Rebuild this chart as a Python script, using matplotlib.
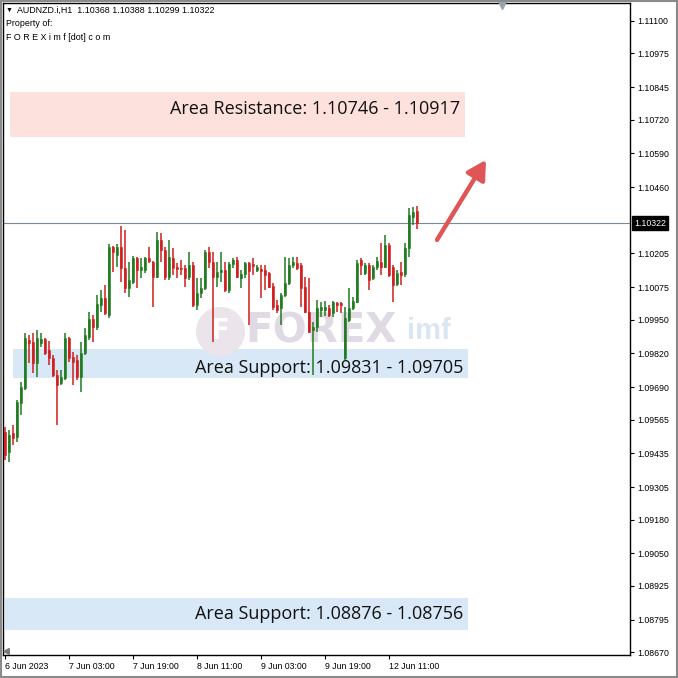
import numpy as np
import matplotlib
matplotlib.use('Agg')
import matplotlib.pyplot as plt
import matplotlib.transforms as mtransforms

# AUDNZD H1 candles, 6 Jun 2023 11:00 -> 12 Jun 2023 18:00
opens = [1.09518, 1.09441, 1.09514, 1.09499, 1.09630, 1.09687, 1.09872, 1.09864, 1.09783, 1.09860,
         1.09876, 1.09834, 1.09803, 1.09737, 1.09706, 1.09726, 1.09880, 1.09807, 1.09795, 1.09730,
         1.09822, 1.09884, 1.09953, 1.09922, 1.10007, 1.10034, 1.09968, 1.10230, 1.10199, 1.10230,
         1.10149, 1.10072, 1.10095, 1.10188, 1.10142, 1.10142, 1.10188, 1.10172, 1.10115, 1.10257,
         1.10218, 1.10115, 1.10188, 1.10153, 1.10149, 1.10149, 1.10115, 1.10161, 1.10007, 1.10053,
         1.10072, 1.10211, 1.10172, 1.10115, 1.10134, 1.10142, 1.10065, 1.10165, 1.10181, 1.10111,
         1.10126, 1.10168, 1.10165, 1.10142, 1.10145, 1.10142, 1.10130, 1.10080, 1.10007, 1.09995,
         1.10045, 1.10091, 1.10161, 1.10168, 1.10161, 1.10076, 1.09980, 1.09910, 1.09922, 1.09988,
         1.09988, 1.09995, 1.09976, 1.10015, 1.10015, 1.09803, 1.09949, 1.09995, 1.10018, 1.10181,
         1.10130, 1.10161, 1.10111, 1.10153, 1.10172, 1.10153, 1.10238, 1.10153, 1.10088, 1.10134,
         1.10126, 1.10226, 1.10345, 1.10368]
highs = [1.09537, 1.09526, 1.09545, 1.09641, 1.09710, 1.09899, 1.09891, 1.09899, 1.09910, 1.09899,
         1.09880, 1.09868, 1.09814, 1.09757, 1.09757, 1.09899, 1.09882, 1.09826, 1.09814, 1.09864,
         1.09918, 1.09980, 1.09968, 1.10045, 1.10065, 1.10084, 1.10242, 1.10234, 1.10242, 1.10311,
         1.10296, 1.10172, 1.10195, 1.10192, 1.10188, 1.10192, 1.10230, 1.10176, 1.10288, 1.10284,
         1.10230, 1.10257, 1.10226, 1.10168, 1.10181, 1.10161, 1.10211, 1.10172, 1.10111, 1.10111,
         1.10218, 1.10230, 1.10211, 1.10172, 1.10211, 1.10172, 1.10172, 1.10188, 1.10192, 1.10142,
         1.10172, 1.10172, 1.10188, 1.10161, 1.10161, 1.10161, 1.10134, 1.10091, 1.10026, 1.10053,
         1.10192, 1.10188, 1.10192, 1.10192, 1.10168, 1.10115, 1.10111, 1.09941, 1.10026, 1.10018,
         1.10022, 1.10007, 1.10022, 1.10018, 1.10018, 1.09999, 1.10072, 1.10038, 1.10181, 1.10188,
         1.10168, 1.10168, 1.10161, 1.10192, 1.10245, 1.10276, 1.10245, 1.10161, 1.10142, 1.10172,
         1.10245, 1.10380, 1.10384, 1.10388]
lows = [1.09410, 1.09402, 1.09468, 1.09479, 1.09583, 1.09680, 1.09783, 1.09745, 1.09730, 1.09845,
        1.09814, 1.09776, 1.09730, 1.09545, 1.09699, 1.09718, 1.09787, 1.09699, 1.09718, 1.09672,
        1.09814, 1.09872, 1.09864, 1.09910, 1.09980, 1.09968, 1.09957, 1.10134, 1.10153, 1.10095,
        1.10053, 1.10038, 1.10088, 1.10072, 1.10111, 1.10130, 1.10168, 1.09999, 1.10111, 1.10172,
        1.10103, 1.10103, 1.10122, 1.10111, 1.10122, 1.10076, 1.10103, 1.09999, 1.09988, 1.10034,
        1.10065, 1.10149, 1.09864, 1.10076, 1.10095, 1.10057, 1.10053, 1.10149, 1.10111, 1.10072,
        1.10111, 1.09930, 1.10122, 1.10134, 1.10034, 1.10065, 1.10072, 1.09988, 1.09976, 1.09930,
        1.10038, 1.10084, 1.10149, 1.10142, 1.09999, 1.09976, 1.09899, 1.09737, 1.09903, 1.09961,
        1.09965, 1.09961, 1.09961, 1.09980, 1.09976, 1.09796, 1.09941, 1.09988, 1.10015, 1.10122,
        1.10122, 1.10065, 1.10103, 1.10142, 1.10122, 1.10149, 1.10115, 1.10018, 1.10080, 1.10084,
        1.10115, 1.10192, 1.10315, 1.10299]
closes = [1.09429, 1.09506, 1.09495, 1.09633, 1.09691, 1.09880, 1.09860, 1.09783, 1.09880, 1.09876,
          1.09822, 1.09803, 1.09737, 1.09699, 1.09730, 1.09880, 1.09803, 1.09787, 1.09730, 1.09822,
          1.09891, 1.09953, 1.09922, 1.10011, 1.10034, 1.09976, 1.10230, 1.10211, 1.10230, 1.10149,
          1.10072, 1.10103, 1.10188, 1.10142, 1.10153, 1.10188, 1.10176, 1.10115, 1.10257, 1.10218,
          1.10115, 1.10192, 1.10149, 1.10145, 1.10145, 1.10111, 1.10161, 1.10007, 1.10053, 1.10072,
          1.10211, 1.10172, 1.10115, 1.10134, 1.10142, 1.10065, 1.10165, 1.10181, 1.10115, 1.10126,
          1.10168, 1.10138, 1.10157, 1.10153, 1.10138, 1.10122, 1.10076, 1.09999, 1.09988, 1.10045,
          1.10091, 1.10161, 1.10172, 1.10149, 1.10072, 1.09980, 1.09903, 1.09922, 1.09995, 1.09999,
          1.09999, 1.09968, 1.10018, 1.10007, 1.10007, 1.09957, 1.09995, 1.10022, 1.10168, 1.10161,
          1.10161, 1.10103, 1.10153, 1.10176, 1.10153, 1.10238, 1.10122, 1.10084, 1.10130, 1.10122,
          1.10226, 1.10353, 1.10365, 1.10322]

time_ticks = [0, 16, 32, 48, 64, 80, 96]
time_labels = ['6 Jun 2023', '7 Jun 03:00', '7 Jun 19:00', '8 Jun 11:00',
               '9 Jun 03:00', '9 Jun 19:00', '12 Jun 11:00']
price_ticks = [1.11100, 1.10975, 1.10845, 1.10720, 1.10590, 1.10460, 1.10205, 1.10075,
               1.09950, 1.09820, 1.09690, 1.09565, 1.09435, 1.09305, 1.09180, 1.09050,
               1.08925, 1.08795, 1.08670]
last_price = 1.10322
header = 'AUDNZD.i,H1  1.10368 1.10388 1.10299 1.10322'

# zones as drawn: (x from, x to, price low, price high, label, label level)
zone_names = ['Area Resistance: 1.10746 - 1.10917',
              'Area Support: 1.09831 - 1.09705',
              'Area Support: 1.08876 - 1.08756']
zone_x0 = [1.25, 2.0, 0.0]
zone_x1 = [115.0, 115.75, 115.75]
zone_lo = [1.10654, 1.09726, 1.08756]
zone_hi = [1.10827, 1.09837, 1.08879]
zone_text_y = [1.10762, 1.09762, 1.08815]
zone_colors = ['#fde1dc', '#d8e8f7', '#d8e8f7']

GREEN = '#1f7a1f'
RED = '#d01e1e'
SMALL = ['Liberation Sans', 'DejaVu Sans']

fig = plt.figure(figsize=(6.78, 6.78), dpi=100)
ax = fig.add_axes([3 / 678, 23 / 678, 627 / 678, 652 / 678])
ax.set_xlim(-0.5, 156.25)
ax.set_ylim(1.08659, 1.11169)

# zones
for i in range(len(zone_names)):
    ax.fill_between([zone_x0[i], zone_x1[i]], zone_lo[i], zone_hi[i],
                    color=zone_colors[i], lw=0, zorder=1)
    ax.text(zone_x1[i] - 1.2, zone_text_y[i], zone_names[i],
            ha='right', va='center', fontsize=13, family='Open Sans',
            color='#111111', zorder=6)

# watermark
ax.scatter([53.75], [1.09905], s=1250, color='#ebe4ea', zorder=2, lw=0)
ax.text(53.75, 1.09905, 'F', ha='center', va='center', fontsize=20,
        fontweight='bold', color='white', zorder=2)
ax.text(60, 1.09905, 'FOREX', ha='left', va='center', fontsize=29,
        fontweight='bold', color='#dfdae3', zorder=2)
ax.text(100.5, 1.09905, 'imf', ha='left', va='center', fontsize=21,
        fontweight='bold', family='Liberation Sans', color='#dae6f1', zorder=2)

# candles
x = np.arange(len(opens))
o = np.array(opens)
h = np.array(highs)
l = np.array(lows)
c = np.array(closes)
colors = [GREEN if c[i] >= o[i] else RED for i in range(len(o))]
ax.vlines(x, l, h, colors=colors, lw=1.1, zorder=3)
body = np.maximum(np.abs(c - o), 0.00003)
ax.bar(x, body, bottom=np.minimum(o, c), width=0.66, color=colors,
       edgecolor=colors, lw=0.4, zorder=4)

# current price line
ax.axhline(last_price, color='#7c8a98', lw=0.8, zorder=2)
trans = mtransforms.blended_transform_factory(ax.transAxes, ax.transData)
ax.text(1.007, last_price, '%.5f' % last_price, transform=trans, ha='left', va='center',
        fontsize=6.3, family=SMALL, color='white', clip_on=False,
        bbox=dict(boxstyle='square,pad=0.25', fc='black', ec='black'))

# arrow
ax.annotate('', xy=(120.25, 1.10565), xytext=(108.0, 1.10257),
            arrowprops=dict(arrowstyle='-|>,head_length=0.75,head_width=0.42',
                            mutation_scale=15, lw=3.2, color='#e05656',
                            shrinkA=0, shrinkB=0), zorder=5)

# axes
ax.yaxis.tick_right()
ax.set_yticks(price_ticks)
ax.set_yticklabels(['%.5f' % p for p in price_ticks])
ax.set_xticks(time_ticks)
ax.set_xticklabels(time_labels)
for lab in ax.get_xticklabels():
    lab.set_ha('left')
for lab in ax.get_xticklabels() + ax.get_yticklabels():
    lab.set_family(SMALL)
ax.tick_params(axis='y', direction='out', length=3, width=0.8, labelsize=6.3, pad=2)
ax.tick_params(axis='x', direction='out', length=3, width=0.8, labelsize=6.3, pad=2)
for s in ax.spines.values():
    s.set_color('black')
    s.set_linewidth(1)

# small markers on the frame
ax.plot([0.7966], [0.997], marker='v', color='#9aa3ad', ms=6, transform=ax.transAxes,
        clip_on=False, zorder=7)
ax.plot([0.006], [0.006], marker=(3, 0, 90), color='#7a7a7a', ms=5, transform=ax.transAxes,
        clip_on=False, zorder=7)

# header
fig.text(6 / 678, 1 - 10 / 678, '\u25bc', fontsize=5, family=SMALL, va='center')
fig.text(17 / 678, 1 - 10 / 678, header, fontsize=6.4, family=SMALL, va='center')
fig.text(6 / 678, 1 - 24 / 678, 'Property of:', fontsize=6.4, family=SMALL, va='center')
fig.text(6 / 678, 1 - 37 / 678, 'F O R E X i m f [dot] c o m', fontsize=6.4,
         family=SMALL, va='center')

# outer border
fig.patches.append(plt.Rectangle((0.001, 0.002), 0.997, 0.997, transform=fig.transFigure,
                                 fill=False, ec='#8a8a8a', lw=1.5))

fig.savefig('out.png', dpi=100)
